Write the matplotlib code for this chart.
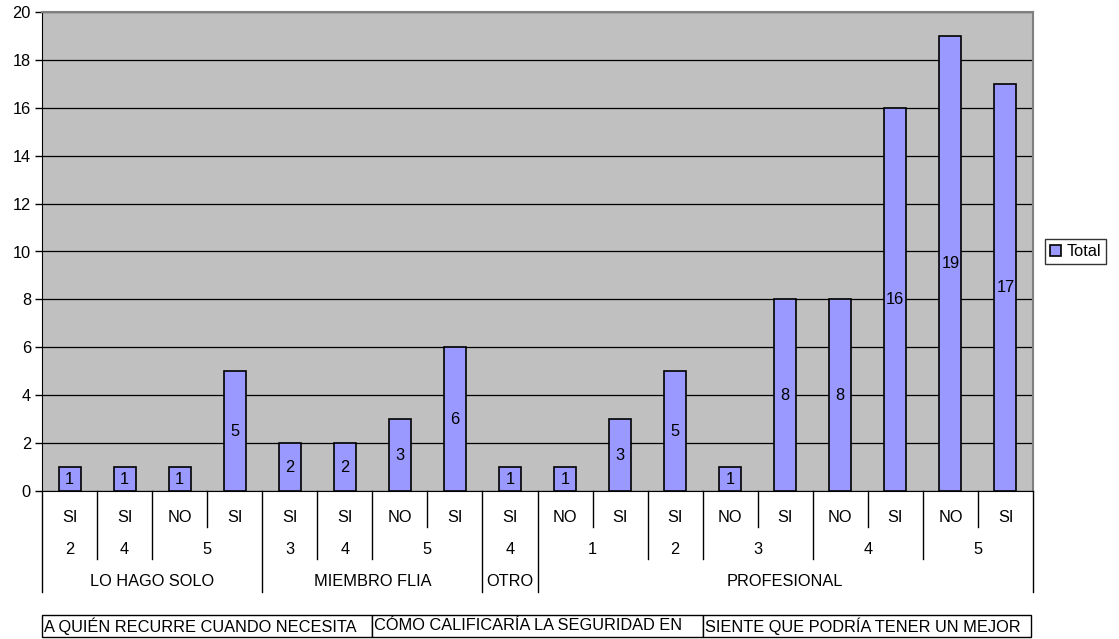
import matplotlib
matplotlib.use("Agg")
import matplotlib.pyplot as plt
import matplotlib.transforms as mtransforms
from matplotlib.patches import Rectangle

plt.rcParams['font.family'] = ['Liberation Sans', 'DejaVu Sans']

# multi-level categories (Excel pivot style)
respuesta = ['SI', 'SI', 'NO', 'SI', 'SI', 'SI', 'NO', 'SI', 'SI',
             'NO', 'SI', 'SI', 'NO', 'SI', 'NO', 'SI', 'NO', 'SI']
calificacion = ['2', '4', '5', '5', '3', '4', '5', '5', '4',
                '1', '1', '2', '3', '3', '4', '4', '5', '5']
recurre = ['LO HAGO SOLO'] * 4 + ['MIEMBRO FLIA'] * 4 + ['OTRO'] + ['PROFESIONAL'] * 9
total = [1, 1, 1, 5, 2, 2, 3, 6, 1, 1, 3, 5, 1, 8, 8, 16, 19, 17]
page_fields = ['A QUIÉN RECURRE CUANDO NECESITA',
               'CÓMO CALIFICARÍA LA SEGURIDAD EN',
               'SIENTE QUE PODRÍA TENER UN MEJOR']

FS = 11.8
W, H = 1119, 639
fig = plt.figure(figsize=(W / 100, H / 100), dpi=100)
ax = fig.add_axes([42 / W, 1 - 491 / H, (1033 - 42) / W, (491 - 12) / H])
ax.set_facecolor('#C0C0C0')

n = len(total)
x = list(range(n))
bars = ax.bar(x, total, width=0.4, color='#9999FF', edgecolor='black', linewidth=1.2,
              zorder=3, label='Total')
for b, v in zip(bars, total):
    ax.text(b.get_x() + b.get_width() / 2, v / 2, str(v), ha='center', va='center',
            fontsize=FS, zorder=4)

ax.set_xlim(-0.5, n - 0.5)
ax.set_ylim(0, 20)
ax.set_yticks(range(0, 21, 2))
ax.tick_params(axis='y', labelsize=FS, length=5, direction='out', width=1, pad=3)
ax.set_xticks([])
ax.grid(axis='y', color='black', linewidth=0.9, zorder=1)
for s in ['top', 'right']:
    ax.spines[s].set_color('#808080')
    ax.spines[s].set_linewidth(1.5)
ax.spines['left'].set_color('black')
ax.spines['bottom'].set_color('black')

# category table under the axis
tr = mtransforms.blended_transform_factory(ax.transData, fig.transFigure)
fy = lambda py: 1 - py / H
row_y = [517, 549, 582]
line_end = [527, 559, 592]

for i in range(n):
    fig.text(i, fy(row_y[0]), respuesta[i], transform=tr, ha='center', va='center', fontsize=FS)

def groups(keys):
    out = []
    start = 0
    for i in range(1, n + 1):
        if i == n or keys[i] != keys[start]:
            out.append((start, i - 1))
            start = i
    return out

lvl2 = groups([r + c for r, c in zip(recurre, calificacion)])
lvl3 = groups(recurre)
for a, b in lvl2:
    fig.text((a + b) / 2, fy(row_y[1]), calificacion[a], transform=tr, ha='center', va='center', fontsize=FS)
for a, b in lvl3:
    fig.text((a + b) / 2, fy(row_y[2]), recurre[a], transform=tr, ha='center', va='center', fontsize=FS)

ends2 = {b for a, b in lvl2}
ends3 = {b for a, b in lvl3}
for i in range(-1, n):
    if i == -1 or i in ends3:
        yend = line_end[2]
    elif i in ends2:
        yend = line_end[1]
    else:
        yend = line_end[0]
    fig.add_artist(plt.Line2D([i + 0.5, i + 0.5], [fy(491), fy(yend)], transform=tr,
                              color='black', linewidth=1))

# page field buttons
box_x = [42, 372, 703, 1031]
for k, txt in enumerate(page_fields):
    x0, x1 = box_x[k], box_x[k + 1]
    rect = Rectangle((x0 / W, fy(637)), (x1 - x0) / W, (637 - 615) / H,
                     transform=fig.transFigure, facecolor='white', edgecolor='black',
                     linewidth=1)
    fig.add_artist(rect)
    t = fig.text(x0 / W + 2 / W, fy(626), txt, ha='left', va='center', fontsize=FS)
    t.set_clip_path(rect)

leg = ax.legend(loc='center left', bbox_to_anchor=(1.012, 0.5), fontsize=FS,
                frameon=True, fancybox=False, edgecolor='black', handlelength=0.7,
                handleheight=0.7, handletextpad=0.3, borderpad=0.3, borderaxespad=0)
leg.get_frame().set_linewidth(1)

fig.savefig('out.png', dpi=100)
